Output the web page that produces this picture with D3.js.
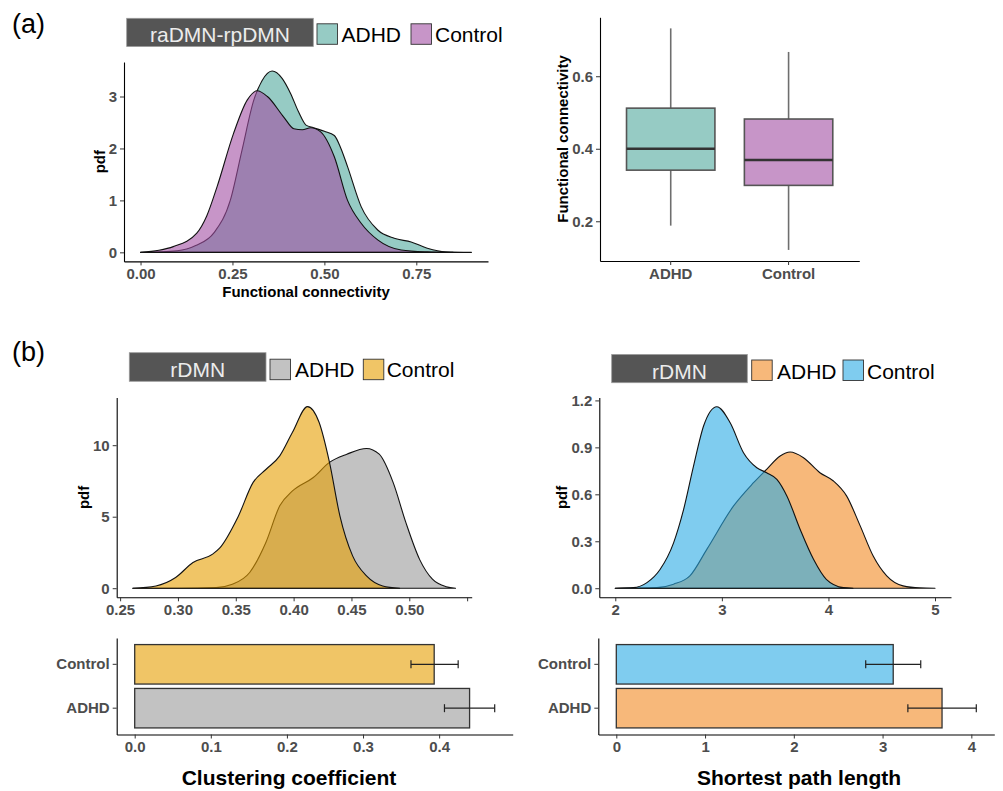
<!DOCTYPE html>
<html><head><meta charset="utf-8">
<script src="https://cdn.jsdelivr.net/npm/d3@7"></script>
<style>body{margin:0;background:#fff}svg{display:block}</style>
</head><body>
<svg id="chart" width="1003" height="791"></svg>
<script>
// ================= DATA =================
const groups = ["ADHD", "Control"];

// (a) raDMN-rpDMN functional connectivity densities
const fcAdhdX   = [0.00,0.10,0.15,0.20,0.244,0.276,0.308,0.33,0.358,0.385,0.408,0.43,0.45,0.47,0.50,0.527,0.545,0.563,0.60,0.645,0.69,0.736,0.78,0.83,0.90];
const fcAdhdPdf = [0,0.03,0.13,0.38,1.0,1.97,2.93,3.3,3.49,3.35,3.06,2.7,2.45,2.40,2.33,2.25,2.0,1.65,0.88,0.43,0.27,0.2,0.08,0.01,0];
const fcCtrlX   = [0.00,0.05,0.089,0.153,0.18,0.208,0.253,0.29,0.317,0.345,0.39,0.417,0.44,0.463,0.49,0.527,0.563,0.60,0.645,0.709,0.78,0.85];
const fcCtrlPdf = [0,0.04,0.11,0.37,0.7,1.26,2.29,2.93,3.11,3.0,2.6,2.38,2.36,2.40,2.32,1.84,1.0,0.56,0.24,0.045,0.01,0];

// (a) boxplot summary (ADHD, Control)
const boxWhiskLo = [0.188, 0.121];
const boxQ1      = [0.341, 0.299];
const boxMedian  = [0.400, 0.369];
const boxQ3      = [0.512, 0.482];
const boxWhiskHi = [0.732, 0.667];

// (b) clustering coefficient densities
const ccAdhdX   = [0.261,0.30,0.333,0.347,0.362,0.376,0.388,0.399,0.417,0.431,0.446,0.463,0.474,0.486,0.497,0.509,0.52,0.532,0.540];
const ccAdhdPdf = [0,0,0.05,0.28,1.1,3.2,5.76,6.8,7.74,8.8,9.37,9.77,9.37,7.4,4.6,2.0,0.63,0.1,0];
const ccCtrlX   = [0.261,0.281,0.298,0.313,0.33,0.336,0.352,0.365,0.376,0.388,0.399,0.412,0.422,0.431,0.44,0.451,0.463,0.477,0.4916];
const ccCtrlPdf = [0,0.16,0.75,1.8,2.38,2.8,5.0,7.4,8.3,9.25,10.9,12.7,11.6,8.8,5.06,2.26,0.86,0.16,0];

// (b) shortest path length densities
const spAdhdX   = [2.0,2.39,2.547,2.70,2.86,3.11,3.297,3.42,3.547,3.64,3.766,3.92,4.047,4.17,4.297,4.42,4.547,4.70,4.86,5.0];
const spAdhdPdf = [0,0.004,0.026,0.079,0.25,0.526,0.674,0.76,0.845,0.87,0.834,0.738,0.685,0.59,0.40,0.206,0.079,0.015,0.002,0];
const spCtrlX   = [2.0,2.17,2.297,2.42,2.547,2.64,2.734,2.83,2.953,3.078,3.203,3.328,3.42,3.516,3.61,3.734,3.86,3.98,4.14,4.23];
const spCtrlPdf = [0,0.004,0.036,0.12,0.29,0.50,0.78,1.04,1.16,1.057,0.866,0.77,0.738,0.696,0.59,0.377,0.185,0.057,0.004,0];

// (b) bar means with error limits (ADHD, Control)
const ccMean = [0.440, 0.3935];
const ccLo   = [0.407, 0.363];
const ccHi   = [0.473, 0.425];
const spMean = [3.67, 3.12];
const spLo   = [3.285, 2.81];
const spHi   = [4.056, 3.43];

// tick values / labels
const fcDensXTicks = [0, 0.25, 0.5, 0.75];
const fcDensYTicks = [0, 1, 2, 3];
const boxYTicks    = [0.2, 0.4, 0.6];
const ccDensXTicks = [0.25, 0.30, 0.35, 0.40, 0.45, 0.50, 0.55];
const ccDensXLabels= ["0.25","0.30","0.35","0.40","0.45","0.50",""];
const ccDensYTicks = [0, 5, 10];
const spDensXTicks = [2, 3, 4, 5];
const spDensYTicks = [0, 0.3, 0.6, 0.9, 1.2];
const ccBarTicks   = [0, 0.1, 0.2, 0.3, 0.4];
const spBarTicks   = [0, 1, 2, 3, 4];

// text
const panelLabels = ["(a)", "(b)"];
const legendTitles = ["raDMN-rpDMN", "rDMN", "rDMN"];
const fcTitle = "Functional connectivity";
const pdfTitle = "pdf";
const ccTitle = "Clustering coefficient";
const spTitle = "Shortest path length";

// ================= STYLE =================
const FONT = "'Liberation Sans', Arial, Helvetica, sans-serif";
const ALPHA = 0.6;
const col = {
  teal: "#50A89D", purple: "#A24EA3",
  grey: "#999999", yellow: "#E69F00",
  orange: "#F28921", blue: "#2AAAE4"
};

const svg = d3.select("#chart").attr("font-family", FONT);
svg.append("rect").attr("width", 1003).attr("height", 791).attr("fill", "#fff");

function expand(ext, f = 0.05) {
  const d = ext[1] - ext[0];
  return [ext[0] - d * f, ext[1] + d * f];
}

function styleAxis(g) {
  g.attr("font-family", FONT).attr("font-size", 15).attr("font-weight", "bold");
  g.select(".domain").attr("stroke", "#000").attr("stroke-width", 1.1);
  g.selectAll(".tick line").attr("stroke", "#333").attr("stroke-width", 1);
  g.selectAll(".tick text").attr("fill", "#4D4D4D");
  return g;
}

function bottomAxis(x, yPos, ticks, fmt) {
  const ax = d3.axisBottom(x).tickValues(ticks).tickSize(4).tickPadding(3).tickSizeOuter(0);
  if (fmt) ax.tickFormat(fmt);
  return styleAxis(svg.append("g").attr("transform", `translate(0,${yPos})`).call(ax));
}
function leftAxis(y, xPos, ticks, fmt) {
  const ax = d3.axisLeft(y).tickSize(4).tickPadding(3).tickSizeOuter(0);
  if (ticks) ax.tickValues(ticks);
  if (fmt) ax.tickFormat(fmt);
  return styleAxis(svg.append("g").attr("transform", `translate(${xPos},0)`).call(ax));
}

function yTitle(text, x, y) {
  svg.append("text").attr("transform", `translate(${x},${y}) rotate(-90)`)
    .attr("text-anchor", "middle").attr("dy", "0.35em")
    .attr("font-size", 15).attr("font-weight", "bold").attr("fill", "#000").text(text);
}

function densityPanel(p) {
  const allX = p.series.flatMap(s => s.x), allY = p.series.flatMap(s => s.y);
  const x = d3.scaleLinear().domain(expand(d3.extent(allX))).range(p.xr);
  const y = d3.scaleLinear().domain(expand([0, d3.max(allY)])).range(p.yr);
  const area = d3.area().x(d => x(d[0])).y0(y(0)).y1(d => y(d[1])).curve(d3.curveMonotoneX);
  p.series.forEach(s => {
    const pts = s.x.map((v, i) => [v, s.y[i]]);
    svg.append("path").attr("d", area(pts))
      .attr("fill", s.color).attr("fill-opacity", ALPHA)
      .attr("stroke", "#111").attr("stroke-width", 1.1).attr("stroke-linejoin", "round");
  });
  const bx = bottomAxis(x, p.yr[0], p.xTicks, p.xFmt);
  leftAxis(y, p.xr[0], p.yTicks, p.yFmt);
  yTitle(pdfTitle, p.pdfX, (p.yr[0] + p.yr[1]) / 2);
  return { x, y };
}

function legend(L) {
  svg.append("rect").attr("x", L.box[0]).attr("y", L.top).attr("width", L.box[1] - L.box[0]).attr("height", L.h)
    .attr("fill", "#555555").attr("stroke", "#9a9a9a").attr("stroke-width", 0.8);
  svg.append("text").attr("x", (L.box[0] + L.box[1]) / 2).attr("y", L.base).attr("text-anchor", "middle")
    .attr("font-size", 21).attr("fill", "#ececec").text(L.title);
  L.items.forEach((it, i) => {
    svg.append("rect").attr("x", it.kx).attr("y", L.keyTop).attr("width", 20.5).attr("height", 20.5)
      .attr("fill", it.color).attr("fill-opacity", ALPHA).attr("stroke", "#333").attr("stroke-width", 0.9);
    svg.append("text").attr("x", it.tx).attr("y", L.base).attr("font-size", 21).attr("fill", "#000").text(groups[i]);
  });
}

function barPanel(p) {
  const x = d3.scaleLinear().domain(expand([0, d3.max(p.hi)])).range(p.xr);
  const y = d3.scaleBand().domain(groups).range(p.yr).paddingInner(0.1).paddingOuter(0.15);
  groups.forEach((g, i) => {
    svg.append("rect").attr("x", x(0)).attr("y", y(g)).attr("width", x(p.mean[i]) - x(0)).attr("height", y.bandwidth())
      .attr("fill", p.colors[i]).attr("fill-opacity", ALPHA).attr("stroke", "#333").attr("stroke-width", 1.3);
  });
  groups.forEach((g, i) => {
    const cy = y(g) + y.bandwidth() / 2;
    const eg = svg.append("g").attr("stroke", "#222").attr("stroke-width", 1.2);
    eg.append("line").attr("x1", x(p.lo[i])).attr("x2", x(p.hi[i])).attr("y1", cy).attr("y2", cy);
    [p.lo[i], p.hi[i]].forEach(v => eg.append("line").attr("x1", x(v)).attr("x2", x(v)).attr("y1", cy - 4).attr("y2", cy + 4));
  });
  bottomAxis(x, p.yr[0], p.ticks, p.fmt);
  leftAxis(y, p.xr[0]);
  svg.append("text").attr("x", p.titleX).attr("y", p.titleY).attr("text-anchor", "middle")
    .attr("font-size", 21).attr("font-weight", "bold").attr("fill", "#000").text(p.title);
}

// ================= PANEL LABELS =================
svg.append("text").attr("x", 12).attr("y", 33).attr("font-size", 27).attr("fill", "#000").text(panelLabels[0]);
svg.append("text").attr("x", 12).attr("y", 361).attr("font-size", 27).attr("fill", "#000").text(panelLabels[1]);

// ================= (a) density =================
const fmt2 = d3.format(".2f"), fmt1 = d3.format(".1f");
densityPanel({
  xr: [124, 488], yr: [261.4, 62],
  series: [
    { x: fcAdhdX, y: fcAdhdPdf, color: col.teal },
    { x: fcCtrlX, y: fcCtrlPdf, color: col.purple }
  ],
  xTicks: fcDensXTicks, xFmt: fmt2, yTicks: fcDensYTicks, yFmt: d3.format("d"), pdfX: 100
});
svg.append("text").attr("x", 306).attr("y", 297).attr("text-anchor", "middle")
  .attr("font-size", 15).attr("font-weight", "bold").attr("fill", "#000").text(fcTitle);
legend({ box: [126.7, 313.3], top: 18.3, h: 28.2, keyTop: 23.8, base: 42.3, title: legendTitles[0],
  items: [{ kx: 317, tx: 341.5, color: col.teal }, { kx: 411, tx: 435, color: col.purple }] });

// ================= (a) boxplot =================
(function () {
  const x = d3.scaleBand().domain(groups).range([600, 859.3]).paddingInner(0.25).paddingOuter(0.225);
  const y = d3.scaleLinear().domain(expand([d3.min(boxWhiskLo), d3.max(boxWhiskHi)])).range([261, 17.3]);
  const fills = [col.teal, col.purple];
  groups.forEach((g, i) => {
    const cx = x(g) + x.bandwidth() / 2;
    const wg = svg.append("g").attr("stroke", "#6e6e6e").attr("stroke-width", 1.6);
    wg.append("line").attr("x1", cx).attr("x2", cx).attr("y1", y(boxWhiskHi[i])).attr("y2", y(boxQ3[i]));
    wg.append("line").attr("x1", cx).attr("x2", cx).attr("y1", y(boxQ1[i])).attr("y2", y(boxWhiskLo[i]));
    svg.append("rect").attr("x", x(g)).attr("y", y(boxQ3[i])).attr("width", x.bandwidth()).attr("height", y(boxQ1[i]) - y(boxQ3[i]))
      .attr("fill", fills[i]).attr("fill-opacity", ALPHA).attr("stroke", "#555").attr("stroke-width", 1.6);
    svg.append("line").attr("x1", x(g)).attr("x2", x(g) + x.bandwidth()).attr("y1", y(boxMedian[i])).attr("y2", y(boxMedian[i]))
      .attr("stroke", "#333").attr("stroke-width", 2.6);
  });
  bottomAxis(x, 261, groups);
  leftAxis(y, 600, boxYTicks, fmt1);
  yTitle(fcTitle, 563, 139);
})();

// ================= (b) clustering coefficient =================
densityPanel({
  xr: [116.7, 471.7], yr: [597.3, 397.5],
  series: [
    { x: ccAdhdX, y: ccAdhdPdf, color: col.grey },
    { x: ccCtrlX, y: ccCtrlPdf, color: col.yellow }
  ],
  xTicks: ccDensXTicks, xFmt: (d, i) => ccDensXLabels[i], yTicks: ccDensYTicks, yFmt: d3.format("d"), pdfX: 83.5
});
legend({ box: [129.3, 266], top: 352.7, h: 28.6, keyTop: 359.2, base: 377.3, title: legendTitles[1],
  items: [{ kx: 270, tx: 295, color: col.grey }, { kx: 363.3, tx: 386.7, color: col.yellow }] });
barPanel({ xr: [116.7, 512.7], yr: [734.5, 638], mean: ccMean, lo: ccLo, hi: ccHi,
  colors: [col.grey, col.yellow], ticks: ccBarTicks, fmt: fmt1, title: ccTitle, titleX: 289, titleY: 785 });

// ================= (b) shortest path length =================
densityPanel({
  xr: [599.3, 951], yr: [597.3, 397.6],
  series: [
    { x: spAdhdX, y: spAdhdPdf, color: col.orange },
    { x: spCtrlX, y: spCtrlPdf, color: col.blue }
  ],
  xTicks: spDensXTicks, xFmt: d3.format("d"), yTicks: spDensYTicks, yFmt: fmt1, pdfX: 562
});
legend({ box: [611.7, 747.3], top: 354.5, h: 28.2, keyTop: 360, base: 378.5, title: legendTitles[2],
  items: [{ kx: 751.7, tx: 777, color: col.orange }, { kx: 843, tx: 867, color: col.blue }] });
barPanel({ xr: [598.3, 994.3], yr: [734.5, 638], mean: spMean, lo: spLo, hi: spHi,
  colors: [col.orange, col.blue], ticks: spBarTicks, fmt: d3.format("d"), title: spTitle, titleX: 799, titleY: 784.5 });
</script>
</body></html>
